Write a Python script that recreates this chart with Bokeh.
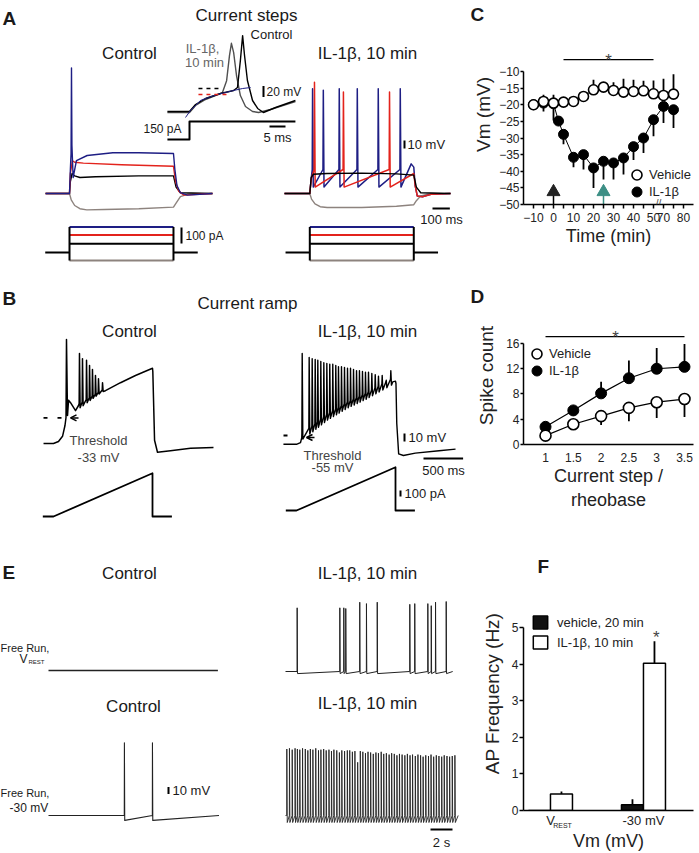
import numpy as np
from bokeh.plotting import figure
from bokeh.models import (Range1d, Label, Legend, LegendItem, FixedTicker, Arrow, OpenHead,
                          LinearAxis)
from bokeh.layouts import column, row
from bokeh.embed import file_html
from bokeh.resources import INLINE
from bokeh.core.properties import value

FONT = "Liberation Sans"
BLUE = "#1e1e84"
RED = "#e3231c"
GRAY = "#8d837e"
INSET_GRAY = "#505050"
LABEL_GRAY = "#666666"
TEAL = "#3c8f85"
TEXT = "#1a1a1a"

# ======================= DATA =======================
# ---- A, inset: first spike at a 150 pA step (ms, mV re. rest, pA)
inset_ctrl_t = [-6.9, 0, 1.9, 5.0, 9.7, 13.8, 15.0, 15.9, 16.6, 17.2, 18.1, 19.7, 21.3, 23.1, 26.9, 33.1]
inset_ctrl_v = [0, 0, 12.7, 23.6, 32.7, 38.2, 43.6, 92.7, 138.0, 101.8, 56.4, 20.0, 5.5, -1.8, 7.3, 20.0]
inset_il1b_t = [-6.9, 0, 1.9, 5.0, 8.1, 10.3, 11.6, 12.5, 13.1, 13.8, 14.7, 15.9, 17.5, 19.7, 21.6, 25.3, 33.1]
inset_il1b_v = [-1.8, -1.8, 10.9, 21.8, 29.0, 34.5, 56.0, 102.0, 124.0, 107.0, 65.0, 29.0, 9.0, 0.0, -1.8, 3.6, 18.0]
inset_fit_t = [-1.25, 0.3, 1.9, 3.4, 5.9, 8.75, 11.25, 13.75, 16.6, 19.1]
inset_fit_v = [-10.9, 1.8, 10.9, 20.0, 25.5, 31.0, 34.5, 38.2, 41.8, 43.6]
inset_thr_v = [41.8, 30.9]            # control, IL-1b threshold
inset_thr_t0 = [2.8, 2.8]
inset_thr_t1 = [10.3, 12.8]
inset_step_t = [-6.9, 0, 0, 33.1]
inset_step_pa = [0, 0, 150, 150]

# ---- A, current steps (ms, mV re. rest, pA)
a_curr_pa = [-50, 55, 110, 160]       # gray, black, red, blue
a_curr_t = [-140, 0, 600, 740]
a_ctrl_gray_t = [-138, 0, 10, 30, 60, 100, 200, 400, 600, 615, 640, 680, 825]
a_ctrl_gray_v = [0, 0, -8, -15, -19, -20.5, -20, -19, -17, -12, -4, -1, 0]
a_ctrl_black_t = [-138, 0, 5, 15, 30, 60, 150, 400, 600, 615, 640, 825]
a_ctrl_black_v = [0, 0, 15, 25, 22, 20, 21, 22, 22, 8, 1, 0]
a_ctrl_red_t = [-138, 0, 5, 17, 30, 80, 300, 600, 612, 630, 660, 825]
a_ctrl_red_v = [0, 0, 25, 41, 39, 38, 36, 34, 15, 3, -2, 0]
a_ctrl_blue_t = [-138, 0, 5, 9, 11.5, 14, 21, 40, 102, 250, 400, 600, 608, 620, 640, 680, 825]
a_ctrl_blue_v = [0, 0, 30, 50, 157, 60, 20, 41, 47.5, 51, 51, 50, 30, 10, 1, -2, 0]

a_il1b_blue_spk_t = [16, 78, 170, 274, 395, 522]
a_il1b_blue_spk_v = [131, 129, 131, 131, 131, 131]
a_il1b_red_spk_t = [27, 194, 460]
a_il1b_red_spk_v = [139, 127, 127]
a_il1b_prespike_v = 30
a_il1b_ahp_v = 8
a_il1b_blue_end_t = [585, 600]
a_il1b_blue_end_v = [37, 33]
a_il1b_red_end_t = [600]
a_il1b_red_end_v = [25]
a_il1b_off_t = [608, 620, 650, 700, 812]
a_il1b_off_v = [10, -3, -4, -1, 0]
a_il1b_black_t = [-146, 0, 8, 20, 100, 300, 500, 600, 615, 640, 812]
a_il1b_black_v = [0, 0, 20, 24, 25, 25.5, 24.5, 23, 8, 1, 0]
a_il1b_gray_t = [-146, 0, 10, 30, 60, 100, 300, 500, 600, 615, 640, 680, 812]
a_il1b_gray_v = [0, 0, -7, -13, -16.5, -17.5, -17.5, -16, -14, -9, -3, -1, 0]

# ---- B, current ramp (ms, mV, pA)
b_ramp_t = [-135, 0, 1250, 1250, 1495]
b_ramp_pa = [0, 0, 720, 0, 0]
b_ctrl_pre_t = [-126, 0, 63, 114, 145, 158, 164, 177, 190, 215, 278, 316]
b_ctrl_pre_v = [-65, -65, -62.5, -56, -42.5, -32.5, 65, -30, -11, -14, -24, -17.5]
b_ctrl_spk_t = [328, 366, 417, 455, 492, 530, 568, 619]
b_ctrl_spk_v = [47.5, 41, 39, 32.5, 27.5, 20, 16, 11]
b_ctrl_env_t = [328, 619]
b_ctrl_trough_v = [-21, 0]
b_ctrl_prespike_v = [-15, 2]
b_ctrl_post_t = [656, 846, 1035, 1250, 1254, 1276, 1313, 1477, 1730, 2020]
b_ctrl_post_v = [1, 11, 20, 29, 25, -61, -76, -74, -71, -70]
b_ctrl_threshold = -33

b_il1b_pre_t = [-165, 0, 50, 66]
b_il1b_pre_v = [-66, -66, -64, -58]
b_il1b_spk_t = [72, 160, 198, 236, 269, 307, 345, 383, 420, 458, 496, 530, 568, 606,
                644, 682, 720, 758, 795, 833, 871, 909, 951, 994, 1035, 1082, 1133, 1191]
b_il1b_spk_v = [47.5, 42.5, 41, 40, 39, 37.5, 36, 35, 34, 34, 32.5, 31, 31, 30,
                29, 29, 27.5, 26, 26, 25, 24, 24, 22.5, 21, 19, 20, 14, 26]
b_il1b_env_t = [72, 114, 388, 640, 893, 1145, 1200]
b_il1b_trough_v = [-60, -57.5, -36, -21, -9, 5, 8]
b_il1b_rise = 8
b_il1b_post_t = [1215, 1250, 1256, 1266, 1290, 1350, 1500, 1800, 2008]
b_il1b_post_v = [12, 13, 10, -40, -78, -80, -77, -74, -72]
b_il1b_threshold = -55

# ---- E, free run (s, mV re. baseline)
e_ctrl_top_t = [0, 15.4]
e_ctrl_top_v = [0, 0]
e_ctrl_bot_spk_t = [6.9, 9.45]
e_ctrl_bot_spk_v = [104, 104]
e_ctrl_bot_end = 15.5
e_il1b_top_spk_t = [1.06, 4.94, 5.30, 5.48, 6.75, 7.36, 8.34, 11.30, 11.75, 12.94, 13.25, 13.64, 14.61]
e_il1b_top_spk_v = [91, 91, 91, 90, 99, 97, 99, 96, 97, 97, 94, 99, 100]
e_il1b_top_end = 15.2
e_il1b_bot_spk_t = [0.12, 0.36, 0.61, 0.87, 1.08, 1.30, 1.55, 1.80, 2.03, 2.26,
                    2.49, 2.75, 3.00, 3.22, 3.47, 3.70, 3.95, 4.18, 4.40, 4.66,
                    4.90, 5.12, 5.37, 5.62, 5.84, 6.08, 6.31, 6.56, 6.80, 7.03,
                    7.27, 7.50, 7.74, 7.98, 8.22, 8.45, 8.70, 8.93, 9.17, 9.42,
                    9.65, 9.89, 10.13, 10.36, 10.60, 10.85, 11.08, 11.32, 11.55, 11.80,
                    12.04, 12.28, 12.51, 12.75, 13.00, 13.23, 13.47, 13.71, 13.95, 14.20,
                    14.43, 14.68, 14.92, 15.16, 15.40]
e_il1b_bot_spk_v = [95, 96, 94, 96, 95, 94, 96, 95, 93, 95,
                    94, 96, 93, 94, 95, 93, 94, 92, 94, 93,
                    90, 93, 92, 93, 93, 91, 92, 76, 92, 91,
                    89, 91, 90, 88, 90, 89, 91, 88, 89, 87,
                    89, 88, 86, 88, 87, 86, 88, 86, 87, 85,
                    87, 86, 84, 86, 85, 87, 84, 86, 85, 84,
                    86, 85, 84, 85, 86]
e_il1b_bot_end = 15.7

# ---- C, Vm time course
c_time_vehicle = [-10, -5, 0, 5, 10, 15, 20, 25, 30, 35, 40, 45, 50, 70, 75]
c_vm_vehicle = [-20.0, -19.0, -19.5, -19.2, -19.0, -17.5, -15.5, -14.7, -15.7, -16.2, -16.0, -15.8, -16.7, -17.2, -16.8]
c_err_vehicle = [1.5, 2.0, 2.5, 1.5, 0.4, 1.5, 3.0, 1.0, 2.5, 4.0, 3.5, 3.0, 4.0, 5.0, 6.0]
c_time_il1b = [-10, -5, 0, 2.5, 5, 10, 15, 20, 25, 30, 35, 40, 45, 50, 70, 75]
c_vm_il1b = [-20.0, -19.5, -19.7, -24.9, -28.9, -35.8, -35.0, -39.0, -37.0, -37.5, -36.0, -32.6, -30.0, -24.5, -20.5, -21.5]
c_err_il1b = [1.0, 2.5, 5.0, 0.5, 3.0, 3.0, 4.5, 6.0, 5.5, 5.0, 5.0, 4.0, 4.5, 5.0, 5.0, 5.5]
c_arrow_times = [0, 25]
c_sig_t = [5, 50]
c_break_gap = 15          # minutes removed by the axis break after 50 min

# ---- D, spike count
d_step = [1, 1.5, 2, 2.5, 3, 3.5]
d_vehicle = [1.4, 3.2, 4.5, 5.8, 6.7, 7.2]
d_vehicle_err = [0.3, 0.7, 1.4, 2.1, 2.5, 2.85]
d_il1b = [2.8, 5.4, 8.1, 10.5, 12.0, 12.3]
d_il1b_err = [0.2, 0.3, 1.85, 2.8, 3.3, 3.6]
d_sig_x = [1, 3.5]

# ---- F, AP frequency
f_groups = ["V", "-30 mV"]
f_vehicle = [0.0, 0.16]
f_vehicle_err = [0.0, 0.15]
f_il1b = [0.45, 4.02]
f_il1b_err = [0.07, 0.6]

# ======================= LAYOUT CONSTANTS (reference pixels) =======================
LW, RW = 466, 233
H1, H2, H3 = 282, 270, 301
TOP1, TOP2, TOP3 = 0, 282, 552
RB_LEFT, RB_RIGHT, RB_TOP = 57, 6, 24

L_INSET_V = (189, 111, 3.2, 0.55)
L_INSET_I = (189, 139, 3.2, 0.12)
L_A_CTRL_V = (69, 193, 0.1733, 0.8)
L_A_IL1B_V = (309.3, 193, 0.1733, 0.8)
L_A_CTRL_I = (69, 252, 0.1733, 0.16)
L_A_IL1B_I = (309.3, 252, 0.1733, 0.16)
L_B_CTRL_V = (53, 391, 0.0792, 0.8)
L_B_IL1B_V = (296, 391, 0.0792, 0.8)
L_B_CTRL_I = (53, 516, 0.0792, 0.06)
L_B_IL1B_I = (296, 510, 0.0792, 0.06)
L_E_CTRL_TOP = (48, 670, 11, 0.7)
L_E_CTRL_BOT = (48, 815, 11, 0.7)
L_E_IL1B_TOP = (285, 671, 11, 0.7)
L_E_IL1B_BOT = (285, 815, 11, 0.7)


def place(t, v, L):
    """data -> canvas coordinates (canvas y axis = minus reference pixel row)"""
    x0, y0, sx, sy = L
    return [x0 + a * sx for a in t], [-(y0 - b * sy) for b in v]


def spiking(pre_t, pre_v, spk_t, spk_v, hi, lo, post_t, post_v, d_up, d_dn):
    t, v = list(pre_t), list(pre_v)
    for i, (ts, pk) in enumerate(zip(spk_t, spk_v)):
        h = hi[i] if isinstance(hi, (list, tuple, np.ndarray)) else hi
        l = lo[i] if isinstance(lo, (list, tuple, np.ndarray)) else lo
        t += [ts - d_up, ts, ts + d_dn]
        v += [h, pk, l]
    return t + list(post_t), v + list(post_v)


def canvas(h, top):
    p = figure(width=LW, height=h, x_range=Range1d(0, LW),
               y_range=Range1d(-(top + h), -top), title=None,
               output_backend="svg", toolbar_location=None,
               x_axis_location=None, y_axis_location=None, min_border=0)
    p.outline_line_color = None
    p.xgrid.visible = False
    p.ygrid.visible = False
    return p


def txt(p, x, y, s, size="17px", align="center", baseline="middle", color=TEXT, style="normal"):
    p.add_layout(Label(x=x, y=-y, text=s, text_font=FONT, text_font_size=size,
                       text_align=align, text_baseline=baseline, text_color=color,
                       text_font_style=style))


def trace(p, t, v, L, color="black", width=1.3, dash="solid"):
    xs, ys = place(t, v, L)
    p.line(xs, ys, line_color=color, line_width=width, line_dash=dash, line_join="round")


def vbar_scale(p, x, y_bottom, length_px, width=2):
    p.line([x, x], [-y_bottom, -(y_bottom - length_px)], line_color="black", line_width=width)


def hbar_scale(p, x_left, y, length_px, width=2):
    p.line([x_left, x_left + length_px], [-y, -y], line_color="black", line_width=width)


# ======================= PANEL A =======================
pA = canvas(H1, TOP1)
txt(pA, 2, 7, "A", "19px", "left", "top", style="bold")
txt(pA, 246, 15, "Current steps")
txt(pA, 129, 53, "Control")
txt(pA, 367, 53, "IL-1β, 10 min")
txt(pA, 202, 48, "IL-1β,", "13px", color=LABEL_GRAY)
txt(pA, 204, 62, "10 min", "13px", color=LABEL_GRAY)
txt(pA, 271, 34, "Control", "13px")
trace(pA, inset_il1b_t, inset_il1b_v, L_INSET_V, INSET_GRAY, 1.4)
trace(pA, inset_ctrl_t, inset_ctrl_v, L_INSET_V, "black", 1.4)
trace(pA, inset_fit_t, inset_fit_v, L_INSET_V, BLUE, 1.0)
for tv, t0, t1, col in zip(inset_thr_v, inset_thr_t0, inset_thr_t1, ["black", RED]):
    trace(pA, [t0, t1], [tv, tv], L_INSET_V, col, 1.3, "4 4")
trace(pA, inset_step_t, inset_step_pa, L_INSET_I, "black", 2)
txt(pA, 181, 128, "150 pA", "12px", "right")
vbar_scale(pA, 263, 96.5, 20 * L_INSET_V[3])
txt(pA, 266, 91, "20 mV", "12px", "left")
hbar_scale(pA, 269, 126, 5 * L_INSET_V[2])
txt(pA, 277, 137, "5 ms", "13px")

for t, v, c in [(a_ctrl_gray_t, a_ctrl_gray_v, GRAY), (a_ctrl_black_t, a_ctrl_black_v, "black"),
                (a_ctrl_red_t, a_ctrl_red_v, RED), (a_ctrl_blue_t, a_ctrl_blue_v, BLUE)]:
    trace(pA, t, v, L_A_CTRL_V, c, 1.4)

trace(pA, a_il1b_gray_t, a_il1b_gray_v, L_A_IL1B_V, GRAY, 1.4)
bt, bv = spiking([-146, 0, 8], [0, 0, 18], a_il1b_blue_spk_t, a_il1b_blue_spk_v,
                 a_il1b_prespike_v, a_il1b_ahp_v,
                 a_il1b_blue_end_t + a_il1b_off_t, a_il1b_blue_end_v + a_il1b_off_v, 2.0, 4.0)
trace(pA, bt, bv, L_A_IL1B_V, BLUE, 1.5)
rt, rv = spiking([-146, 0, 8], [0, 0, 18], a_il1b_red_spk_t, a_il1b_red_spk_v,
                 a_il1b_prespike_v, a_il1b_ahp_v,
                 a_il1b_red_end_t + a_il1b_off_t, a_il1b_red_end_v + a_il1b_off_v, 2.0, 4.0)
trace(pA, rt, rv, L_A_IL1B_V, RED, 1.5)
trace(pA, a_il1b_black_t, a_il1b_black_v, L_A_IL1B_V, "black", 1.4)

for L in (L_A_CTRL_I, L_A_IL1B_I):
    for pa, c in zip(a_curr_pa, [GRAY, "black", RED, BLUE]):
        trace(pA, [a_curr_t[1], a_curr_t[2]], [pa, pa], L, c, 2)
    trace(pA, [a_curr_t[0], a_curr_t[1]], [0, 0], L, "black", 2)
    trace(pA, [a_curr_t[2], a_curr_t[3]], [0, 0], L, "black", 2)
    for tt in (a_curr_t[1], a_curr_t[2]):
        trace(pA, [tt, tt], [min(a_curr_pa), max(a_curr_pa)], L, "black", 2)
vbar_scale(pA, 181, 243, 100 * L_A_CTRL_I[3])
txt(pA, 185, 235, "100 pA", "12px", "left")
vbar_scale(pA, 404, 148, 10 * L_A_IL1B_V[3])
txt(pA, 407, 144, "10 mV", "13px", "left")
hbar_scale(pA, 432, 208, 100 * L_A_IL1B_V[2])
txt(pA, 441, 219, "100 ms", "13px")

# ======================= PANEL B =======================
pB = canvas(H2, TOP2)
txt(pB, 2, 287, "B", "19px", "left", "top", style="bold")
txt(pB, 247, 303, "Current ramp")
txt(pB, 129, 331, "Control")
txt(pB, 367, 331, "IL-1β, 10 min")

lo_c = list(np.interp([t + 8 for t in b_ctrl_spk_t], b_ctrl_env_t, b_ctrl_trough_v))
hi_c = list(np.interp([t - 4 for t in b_ctrl_spk_t], b_ctrl_env_t, b_ctrl_prespike_v))
ct, cv = spiking(b_ctrl_pre_t, b_ctrl_pre_v, b_ctrl_spk_t, b_ctrl_spk_v, hi_c, lo_c,
                 b_ctrl_post_t, b_ctrl_post_v, 4, 8)
trace(pB, ct, cv, L_B_CTRL_V, "black", 1.5)
lo_i = list(np.interp([t + 8 for t in b_il1b_spk_t], b_il1b_env_t, b_il1b_trough_v))
hi_i = [x + b_il1b_rise for x in np.interp([t - 4 for t in b_il1b_spk_t], b_il1b_env_t, b_il1b_trough_v)]
it, iv = spiking(b_il1b_pre_t, b_il1b_pre_v, b_il1b_spk_t, b_il1b_spk_v, hi_i, lo_i,
                 b_il1b_post_t, b_il1b_post_v, 4, 8)
trace(pB, it, iv, L_B_IL1B_V, "black", 1.4)
trace(pB, b_ramp_t, b_ramp_pa, L_B_CTRL_I, "black", 1.8)
trace(pB, b_ramp_t, b_ramp_pa, L_B_IL1B_I, "black", 1.8)

yc = L_B_CTRL_V[1] - b_ctrl_threshold * L_B_CTRL_V[3]
yi = L_B_IL1B_V[1] - b_il1b_threshold * L_B_IL1B_V[3]
pB.line([43, 61], [-yc, -yc], line_color="black", line_width=1.8, line_dash="4 10")
pB.line([283, 287], [-yi, -yi], line_color="black", line_width=1.8)
for (xa, ya) in [(70, yc), (306, yi + 2)]:
    pB.add_layout(Arrow(x_start=xa + 8, y_start=-ya, x_end=xa, y_end=-ya, line_width=1.5,
                        end=OpenHead(size=6, line_width=1.5)))
txt(pB, 98, 440, "Threshold", "13px", color="#444444")
txt(pB, 98, 457, "-33 mV", "13px", color="#444444")
txt(pB, 332, 455, "Threshold", "13px", color="#444444")
txt(pB, 332, 467, "-55 mV", "13px", color="#444444")
vbar_scale(pB, 404, 441, 10 * L_B_IL1B_V[3])
txt(pB, 408, 437, "10 mV", "13px", "left")
hbar_scale(pB, 423, 458, 500 * L_B_IL1B_V[2])
txt(pB, 443, 470, "500 ms", "13px")
vbar_scale(pB, 400, 496, 100 * L_B_IL1B_I[3])
txt(pB, 404, 493, "100  pA", "13px", "left")

# ======================= PANEL E =======================
pE = canvas(H3, TOP3)
txt(pE, 2, 561, "E", "19px", "left", "top", style="bold")
txt(pE, 129, 573, "Control")
txt(pE, 367, 573, "IL-1β, 10 min")
txt(pE, 133, 706, "Control")
txt(pE, 367, 703, "IL-1β, 10 min")
txt(pE, 0, 647, "Free Run,", "11px", "left")
txt(pE, 23, 658, "V", "12px")
txt(pE, 28, 661, "REST", "6px", "left")
txt(pE, 0, 792, "Free Run,", "11px", "left")
txt(pE, 9, 807, "-30 mV", "12px", "left")

trace(pE, e_ctrl_top_t, e_ctrl_top_v, L_E_CTRL_TOP, "#222222", 1.3)
t1, v1 = spiking([0], [0], e_ctrl_bot_spk_t, e_ctrl_bot_spk_v, 0, -7, [e_ctrl_bot_end], [0], 0.01, 0.03)
trace(pE, t1, v1, L_E_CTRL_BOT, "#222222", 1.1)
t2, v2 = spiking([0], [0], e_il1b_top_spk_t, e_il1b_top_spk_v, 0, -3, [e_il1b_top_end], [0], 0.01, 0.03)
trace(pE, t2, v2, L_E_IL1B_TOP, "#222222", 1.0)
t3, v3 = spiking([0], [0], e_il1b_bot_spk_t, e_il1b_bot_spk_v, 0, -10, [e_il1b_bot_end], [0], 0.01, 0.04)
trace(pE, t3, v3, L_E_IL1B_BOT, "#222222", 0.9)
vbar_scale(pE, 168, 793.5, 10 * L_E_CTRL_BOT[3])
txt(pE, 172, 790, "10 mV", "13px", "left")
hbar_scale(pE, 430, 829, 2 * L_E_IL1B_BOT[2])
txt(pE, 441, 842, "2 s", "13px")


# ======================= helpers for data panels =======================
def data_fig(h, xr, yr, bb, letter, letter_offset):
    p = figure(width=RW, height=h, x_range=xr, y_range=yr, output_backend="svg",
               toolbar_location=None, min_border_left=RB_LEFT, min_border_right=RB_RIGHT,
               min_border_top=RB_TOP, min_border_bottom=bb, title=letter)
    p.title.text_font = FONT
    p.title.text_font_size = "19px"
    p.title.text_font_style = "bold"
    p.title.text_color = TEXT
    p.title.align = "left"
    p.title.offset = letter_offset
    p.title.standoff = 0
    p.outline_line_color = None
    p.xgrid.visible = False
    p.ygrid.visible = False
    for ax in p.axis:
        ax.axis_line_color = "black"
        ax.axis_line_width = 1.5
        ax.major_tick_line_color = "black"
        ax.major_tick_line_width = 1.5
        ax.minor_tick_line_color = "black"
        ax.minor_tick_line_width = 1.5
        ax.major_tick_in = 0
        ax.minor_tick_in = 0
        ax.major_label_text_font = FONT
        ax.major_label_text_font_size = "12px"
        ax.major_label_text_color = "#222222"
        ax.axis_label_text_font = FONT
        ax.axis_label_text_font_style = "normal"
        ax.axis_label_text_color = "#222222"
    return p


def legend_item(p, label, renderer, loc, gw, gh, size="13px", standoff=0):
    lg = Legend(items=[LegendItem(label=value(label), renderers=[renderer])],
                location=loc, glyph_width=gw, glyph_height=gh, padding=0, spacing=0,
                margin=0, label_standoff=standoff, label_text_font=FONT,
                label_text_font_size=size, label_height=gh, background_fill_alpha=0,
                border_line_alpha=0, label_text_color="#222222")
    p.add_layout(lg)


# ======================= PANEL C =======================
pC = data_fig(H1, Range1d(-15, 70), Range1d(-50, 4.14), 78, "C", -53)
pC.yaxis.bounds = (-50, -10)
pC.xaxis.ticker = FixedTicker(ticks=[-10, 0, 10, 20, 30, 40, 50, 55, 65],
                              minor_ticks=[-5, 5, 15, 25, 35, 45, 60])
pC.xaxis.major_label_overrides = {55: "70", 65: "80"}
pC.yaxis.ticker = FixedTicker(ticks=[-50, -45, -40, -35, -30, -25, -20, -15, -10], minor_ticks=[])
pC.xaxis.major_tick_out = 4
pC.xaxis.minor_tick_out = 4
pC.yaxis.major_tick_out = 3
pC.yaxis.major_label_standoff = 1
pC.xaxis.major_label_standoff = 4
pC.xaxis.axis_label = "Time (min)"
pC.yaxis.axis_label = "Vm (mV)"
pC.xaxis.axis_label_text_font_size = "18px"
pC.yaxis.axis_label_text_font_size = "19px"
pC.xaxis.axis_label_standoff = 1
pC.yaxis.axis_label_standoff = 2


def cpos(ts):
    return [t if t <= 50 else t - c_break_gap for t in ts]


vx, ix = cpos(c_time_vehicle), cpos(c_time_il1b)
pC.line(ix, c_vm_il1b, line_color="black", line_width=1)
pC.line(vx, c_vm_vehicle, line_color="black", line_width=1)
pC.segment(x0=ix, y0=c_vm_il1b, x1=ix, y1=[y - e for y, e in zip(c_vm_il1b, c_err_il1b)],
           line_color="black", line_width=1.8)
pC.segment(x0=vx, y0=c_vm_vehicle, x1=vx, y1=[y + e for y, e in zip(c_vm_vehicle, c_err_vehicle)],
           line_color="black", line_width=1.8)
rC_il = pC.scatter(ix, c_vm_il1b, marker="circle", size=10, fill_color="black", line_color="black")
rC_veh = pC.scatter(vx, c_vm_vehicle, marker="circle", size=10, fill_color="white",
                    line_color="black", line_width=1.6)
ARROW_Y = -46.2
pC.segment(x0=c_arrow_times, y0=[ARROW_Y] * 2, x1=c_arrow_times, y1=[-50] * 2,
           line_color=["black", TEAL], line_width=1.5)
pC.scatter(c_arrow_times, [ARROW_Y] * 2, marker="triangle", size=13,
           fill_color=["#222222", TEAL], line_color=["#222222", TEAL])
SIG_C = -6.4
pC.add_layout(Arrow(x_start=c_sig_t[0], y_start=SIG_C, x_end=c_sig_t[1], y_end=SIG_C,
                    start=None, end=None, line_width=1.2, line_color="black"))
pC.add_layout(Label(x=sum(c_sig_t) / 2, y=SIG_C - 0.3, text="*", text_font=FONT,
                    text_font_size="17px", text_align="center", text_baseline="alphabetic"))
pC.add_layout(Label(x=52.5, y=-49.6, text="//", text_font=FONT, text_font_size="10px",
                    text_align="center", text_baseline="middle"))
legend_item(pC, "Vehicle", rC_veh, (101, 17), 25, 25)
legend_item(pC, "IL-1β", rC_il, (101, 0), 25, 25)

# ======================= PANEL D =======================
pD = data_fig(H2, Range1d(0.604, 3.662), Range1d(0, 21.86), 108, "D", -53)
pD.yaxis.bounds = (0, 16)
pD.xaxis.ticker = FixedTicker(ticks=d_step, minor_ticks=[])
pD.xaxis.major_label_overrides = {1: "1", 1.5: "1.5", 2: "2", 2.5: "2.5", 3: "3", 3.5: "3.5"}
pD.yaxis.ticker = FixedTicker(ticks=[0, 4, 8, 12, 16], minor_ticks=[])
pD.xaxis.major_tick_out = 0
pD.xaxis.major_label_standoff = 8
pD.yaxis.major_tick_out = 3
pD.yaxis.major_label_standoff = 1
pD.xaxis.axis_label = "Current step /\nrheobase"
pD.yaxis.axis_label = "Spike count"
pD.xaxis.axis_label_text_font_size = "18px"
pD.yaxis.axis_label_text_font_size = "19px"
pD.xaxis.axis_label_standoff = 1
pD.yaxis.axis_label_standoff = 6
pD.line(d_step, d_il1b, line_color="black", line_width=1.2)
pD.line(d_step, d_vehicle, line_color="black", line_width=1.2)
pD.segment(x0=d_step, y0=d_il1b, x1=d_step, y1=[y + e for y, e in zip(d_il1b, d_il1b_err)],
           line_color="black", line_width=1.8)
pD.segment(x0=d_step, y0=d_vehicle, x1=d_step, y1=[y - e for y, e in zip(d_vehicle, d_vehicle_err)],
           line_color="black", line_width=1.8)
rD_il = pD.scatter(d_step, d_il1b, marker="circle", size=11, fill_color="black", line_color="black")
rD_veh = pD.scatter(d_step, d_vehicle, marker="circle", size=11, fill_color="white",
                    line_color="black", line_width=1.6)
SIG_D = 17.1
pD.add_layout(Arrow(x_start=d_sig_x[0], y_start=SIG_D, x_end=d_sig_x[1], y_end=SIG_D,
                    start=None, end=None, line_width=1.2, line_color="black"))
pD.add_layout(Label(x=2.26, y=SIG_D - 0.2, text="*", text_font=FONT, text_font_size="17px",
                    text_align="center", text_baseline="alphabetic"))
legend_item(pD, "Vehicle", rD_veh, (1, 78), 25, 25)
legend_item(pD, "IL-1β", rD_il, (1, 61), 25, 25)

# ======================= PANEL F =======================
f_pos = list(range(len(f_groups)))
BAR_W = 0.2366
pF = data_fig(H3, Range1d(-0.29, 1.538), Range1d(0, 6.39), 38, "F", 14)
pF.yaxis.bounds = (0, 5)
pF.xaxis.ticker = FixedTicker(ticks=f_pos, minor_ticks=[])
pF.xaxis.major_label_overrides = {i: g for i, g in zip(f_pos, f_groups)}
pF.yaxis.ticker = FixedTicker(ticks=[0, 1, 2, 3, 4, 5], minor_ticks=[])
pF.xaxis.major_tick_out = 0
pF.xaxis.major_label_standoff = 2
pF.xaxis.major_label_text_font_size = "13px"
pF.yaxis.major_tick_out = 4
pF.yaxis.major_label_standoff = 1
pF.xaxis.axis_label = "Vm (mV)"
pF.yaxis.axis_label = "AP Frequency (Hz)"
pF.xaxis.axis_label_text_font_size = "18px"
pF.yaxis.axis_label_text_font_size = "19px"
pF.xaxis.axis_label_standoff = 0
pF.yaxis.axis_label_standoff = 6
rest_axis = LinearAxis(ticker=FixedTicker(ticks=[0.13], minor_ticks=[]),
                       major_label_overrides={0.13: "REST"},
                       axis_line_color=None, major_tick_line_color=None,
                       minor_tick_line_color=None, major_tick_out=0, minor_tick_out=0,
                       major_label_text_font=FONT,
                       major_label_text_font_size="7px", major_label_standoff=-32,
                       major_label_text_color="#222222")
pF.add_layout(rest_axis, "below")
xv = [x - BAR_W / 2 for x in f_pos]
xi = [x + BAR_W / 2 for x in f_pos]
pF.segment(x0=xv, y0=f_vehicle, x1=xv, y1=[y + e for y, e in zip(f_vehicle, f_vehicle_err)],
           line_color="black", line_width=1.8)
pF.segment(x0=xi, y0=f_il1b, x1=xi, y1=[y + e for y, e in zip(f_il1b, f_il1b_err)],
           line_color="black", line_width=1.8)
rF_veh = pF.vbar(x=xv, top=f_vehicle, bottom=0, width=BAR_W, fill_color="#111111",
                 line_color="black", line_width=1.5)
rF_il = pF.vbar(x=xi, top=f_il1b, bottom=0, width=BAR_W, fill_color="white",
                line_color="black", line_width=1.5)
pF.add_layout(Label(x=xi[1] + 0.02, y=4.72, text="*", text_font=FONT, text_font_size="17px",
                    text_align="center", text_baseline="alphabetic"))
legend_item(pF, "vehicle, 20 min", rF_veh, (8, 180), 18, 16, standoff=8)
legend_item(pF, "IL-1β, 10 min", rF_il, (8, 160), 18, 16, standoff=8)

layout = row(column(pA, pB, pE), column(pC, pD, pF))
open("out.html", "w").write(file_html(layout, INLINE, "Figure"))
